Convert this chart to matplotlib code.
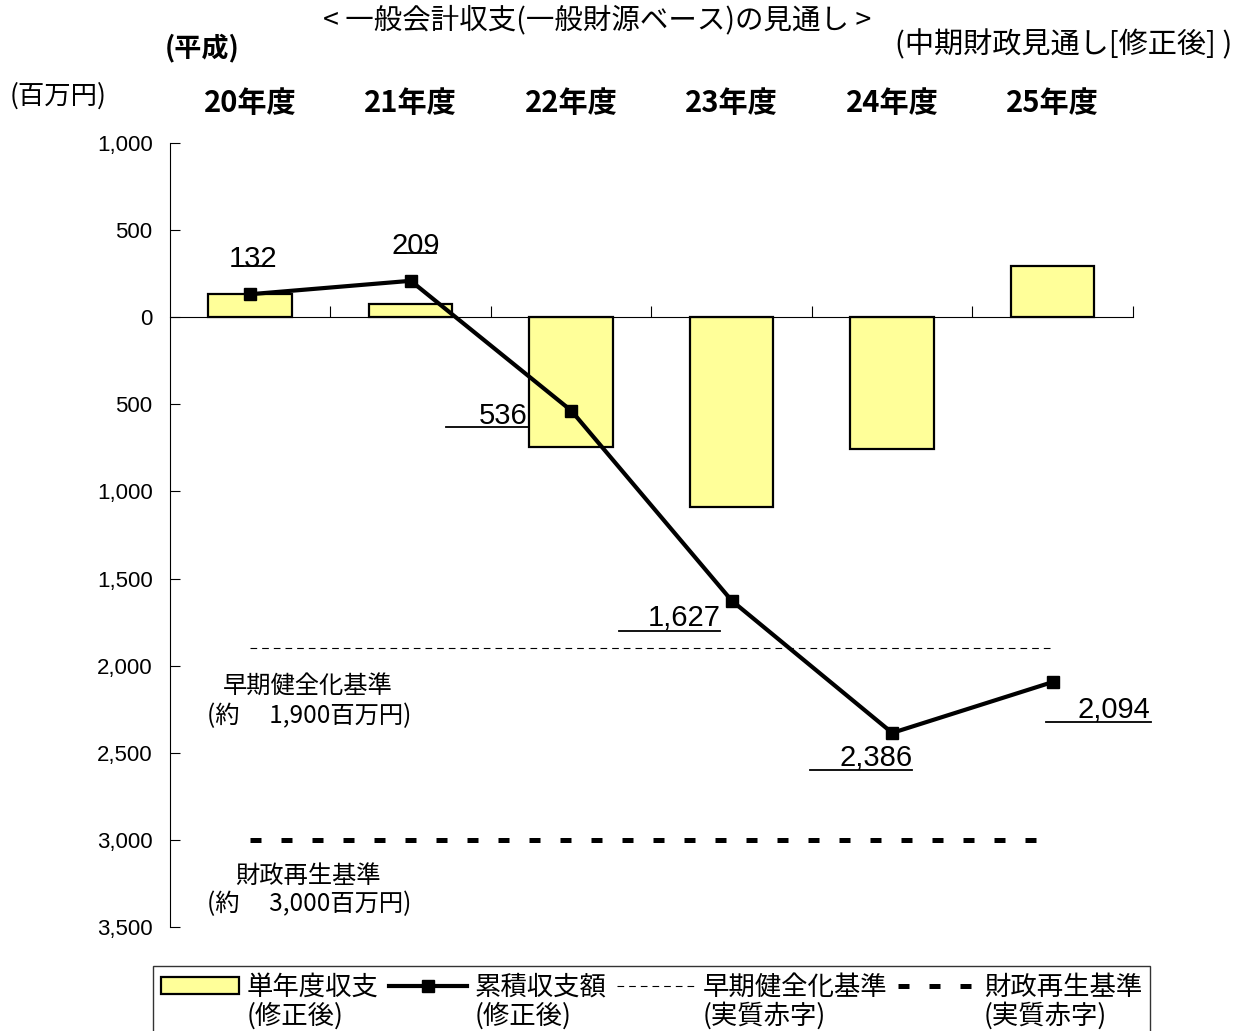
import matplotlib
matplotlib.use("Agg")
import matplotlib.pyplot as plt
from matplotlib.patches import Patch
from matplotlib.lines import Line2D
from matplotlib.ticker import FuncFormatter
import matplotlib.transforms as mtransforms

JP = ['Noto Sans CJK JP', 'DejaVu Sans']
NUM = ['Liberation Sans Narrow', 'Liberation Sans', 'DejaVu Sans']

years = ['20年度', '21年度', '22年度', '23年度', '24年度', '25年度']
annual = [132, 77, -745, -1091, -759, 292]          # 単年度収支
cumulative = [132, 209, -536, -1627, -2386, -2094]  # 累積収支額
early_line = -1900   # 早期健全化基準
rebuild_line = -3000  # 財政再生基準
yticks = [1000, 500, 0, -500, -1000, -1500, -2000, -2500, -3000, -3500]

fig = plt.figure(figsize=(12.46, 10.31), dpi=100)
ax = fig.add_axes([0.1364, 0.1009, 0.7729, 0.7604])

x = list(range(len(years)))
ax.bar(x, annual, width=0.52, color='#FFFF99', edgecolor='black', linewidth=1.6, zorder=2)
ax.plot(x, cumulative, color='black', linewidth=3.0, marker='s', markersize=8.5, zorder=4)

ax.plot([0, 5], [early_line, early_line], color='black', linewidth=0.8,
        dashes=(6, 4.5), zorder=1)
ax.plot([0, 4.93], [rebuild_line, rebuild_line], color='black', linewidth=3.6,
        dashes=(2.2, 4.0), zorder=1)

ax.set_xlim(-0.5, 5.5)
ax.set_ylim(-3500, 1000)
ax.set_yticks(yticks)
ax.yaxis.set_major_formatter(FuncFormatter(lambda v, p: '{:,.0f}'.format(abs(v))))
ax.set_xticks([i + 0.5 for i in x])
ax.set_xticklabels([])
ax.tick_params(axis='x', direction='in', length=8, width=0.8)
ax.tick_params(axis='y', direction='in', length=7, width=0.8, pad=12.5)
for lab in ax.get_yticklabels():
    lab.set_family(NUM)
    lab.set_fontsize(16)
ax.spines['top'].set_visible(False)
ax.spines['right'].set_visible(False)
ax.spines['bottom'].set_position(('data', 0))
ax.spines['bottom'].set_linewidth(0.8)
ax.spines['left'].set_linewidth(0.8)

# year labels above plot
trans = mtransforms.blended_transform_factory(ax.transData, ax.transAxes)
for i, yr in enumerate(years):
    ax.text(i, 1.051, yr, transform=trans, ha='center', va='center',
            fontsize=21, fontweight='bold', family=JP)

# cumulative value labels: (dx text, dy text, ha, underline x0, x1, dy line)
lab_specs = [
    (0.02, 200, 'center', -0.11, 0.15, 160),
    (0.03, 200, 'center', -0.1, 0.16, 160),
    (-0.27, -30, 'right', -0.78, -0.27, -95),
    (-0.07, -100, 'right', -0.7, -0.07, -175),
    (0.125, -145, 'right', -0.51, 0.125, -213),
    (0.61, -163, 'right', -0.04, 0.61, -231),
]
for i, (v, spec) in enumerate(zip(cumulative, lab_specs)):
    dx, dy, ha, x0, x1, dl = spec
    ax.text(i + dx, v + dy, '{:,}'.format(abs(v)), ha=ha, va='center',
            fontsize=21, family=NUM, zorder=5, clip_on=False)
    ax.plot([i + x0, i + x1], [v + dl, v + dl], color='black', linewidth=1.3,
            zorder=5, clip_on=False)

ax.text(0.36, -2124, '早期健全化基準', ha='center', va='center', fontsize=17.5, family=JP)
ax.text(-0.27, -2290, '(約\u3000 1,900百万円)', ha='left', va='center', fontsize=17.5, family=JP)
ax.text(0.36, -3209, '財政再生基準', ha='center', va='center', fontsize=17.5, family=JP)
ax.text(-0.27, -3370, '(約\u3000 3,000百万円)', ha='left', va='center', fontsize=17.5, family=JP)

fig.text(0.479, 0.9806, '< 一般会計収支(一般財源ベース)の見通し >', ha='center', va='center',
         fontsize=20.5, family=JP)
fig.text(0.9888, 0.9564, '(中期財政見通し[修正後] )', ha='right', va='center',
         fontsize=21, family=JP)
fig.text(0.1324, 0.9534, '(平成)', ha='left', va='center', fontsize=19.5,
         fontweight='bold', family=JP)
fig.text(0.008, 0.9069, '(百万円)', ha='left', va='center', fontsize=19, family=JP)

blank = Line2D([], [], linestyle='none')
handles = [
    Patch(facecolor='#FFFF99', edgecolor='black', linewidth=1.6), blank,
    Line2D([], [], color='black', linewidth=3.0, marker='s', markersize=8.5), blank,
    Line2D([], [], color='black', linewidth=0.8, dashes=(6, 4.5)), blank,
    Line2D([], [], color='black', linewidth=3.6, dashes=(2.2, 4.0)), blank,
]
labels = ['単年度収支', '(修正後)', '累積収支額', '(修正後)',
          '早期健全化基準', '(実質赤字)', '財政再生基準', '(実質赤字)']
leg = fig.legend(handles, labels, ncol=4, loc='upper left',
                 bbox_to_anchor=(153 / 1246, 1 - 966 / 1031),
                 prop={'family': JP, 'size': 19}, frameon=True, fancybox=False,
                 edgecolor='black', handlelength=2.95, handletextpad=0.3,
                 columnspacing=0.4, borderpad=0.3, labelspacing=0.05,
                 borderaxespad=0.0, handleheight=0.6)
leg.get_frame().set_linewidth(1.0)

fig.savefig('out.png', dpi=100)
